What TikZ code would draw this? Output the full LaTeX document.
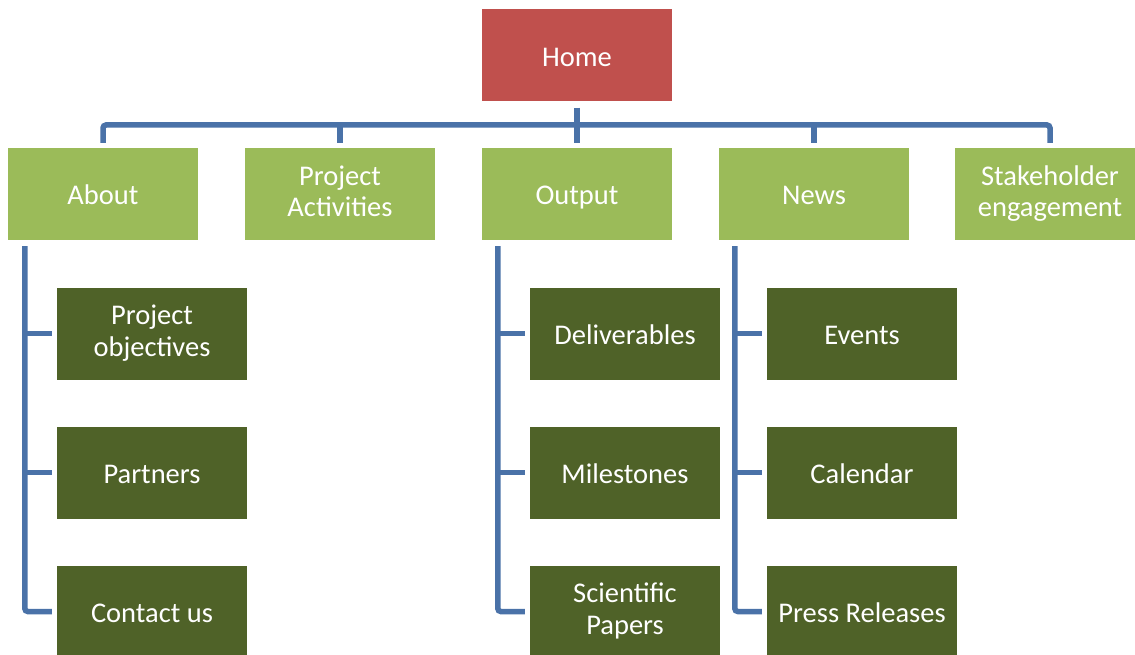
\documentclass[tikz,border=0pt]{standalone}
\usepackage{fontspec}
\setmainfont{Carlito}
\definecolor{homered}{HTML}{C0504D}
\definecolor{lightgreen}{HTML}{9BBB59}
\definecolor{darkgreen}{HTML}{4F6228}
\definecolor{linkblue}{HTML}{4A72A8}
\newcommand\mytopstrut{\rule{0pt}{28pt}}
\newcommand\mybotstrut{\rule[-6pt]{0pt}{0pt}}
\tikzset{
  box/.style={minimum width=190pt, minimum height=92pt, inner sep=0pt, text=white,
    align=center, font=\fontsize{28.5}{31.5}\selectfont,
    execute at begin node=\mytopstrut, execute at end node=\mybotstrut},
  homebox/.style={box, fill=homered},
  topbox/.style={box, fill=lightgreen},
  subbox/.style={box, fill=darkgreen},
  conn/.style={draw=linkblue, line width=5.5pt},
}
\begin{document}
\begin{tikzpicture}[x=1pt,y=1pt]
\useasboundingbox (0,0) rectangle (1135,-655);
\node[homebox] (home) at (577,-55.5) {Home};
\node[topbox] (about) at (103,-194) {About};
\node[topbox] (proj) at (340,-194) {Project\\Activities};
\node[topbox] (output) at (577,-194) {Output};
\node[topbox] (news) at (814,-194) {News};
\node[topbox] (stake) at (1050,-194) {Stakeholder\\engagement};
\node[subbox] (obj) at (152,-333.5) {Project\\objectives};
\node[subbox] (partners) at (152,-472.5) {Partners};
\node[subbox] (contact) at (152,-611.5) {Contact us};
\node[subbox] (deliv) at (625,-333.5) {Deliverables};
\node[subbox] (miles) at (625,-472.5) {Milestones};
\node[subbox] (papers) at (625,-611.5) {Scientific\\Papers};
\node[subbox] (events) at (862,-333.5) {Events};
\node[subbox] (cal) at (862,-472.5) {Calendar};
\node[subbox] (press) at (862,-611.5) {Press Releases};
\coordinate (bus) at (577,-125);
% top-level bus
\draw[conn, rounded corners=3pt] ([yshift=5pt]about.north) |- (bus) -| ([yshift=5pt]stake.north);
\draw[conn, shorten <=6pt, shorten >=5pt] (home) -- (output);
\draw[conn, shorten <=5pt] (proj.north) -- (proj.north |- bus);
\draw[conn, shorten <=5pt] (news.north) -- (news.north |- bus);
% About children
\draw[conn, rounded corners=3pt] ([xshift=17pt,yshift=-6pt]about.south west) |- ([xshift=-5pt]contact.west);
\draw[conn, shorten <=5pt] (obj.west) -- ([xshift=17pt]about.south west |- obj.west);
\draw[conn, shorten <=5pt] (partners.west) -- ([xshift=17pt]about.south west |- partners.west);
% Output children
\draw[conn, rounded corners=3pt] ([xshift=16pt,yshift=-6pt]output.south west) |- ([xshift=-5pt]papers.west);
\draw[conn, shorten <=5pt] (deliv.west) -- ([xshift=16pt]output.south west |- deliv.west);
\draw[conn, shorten <=5pt] (miles.west) -- ([xshift=16pt]output.south west |- miles.west);
% News children
\draw[conn, rounded corners=3pt] ([xshift=16pt,yshift=-6pt]news.south west) |- ([xshift=-5pt]press.west);
\draw[conn, shorten <=5pt] (events.west) -- ([xshift=16pt]news.south west |- events.west);
\draw[conn, shorten <=5pt] (cal.west) -- ([xshift=16pt]news.south west |- cal.west);
\end{tikzpicture}
\end{document}
